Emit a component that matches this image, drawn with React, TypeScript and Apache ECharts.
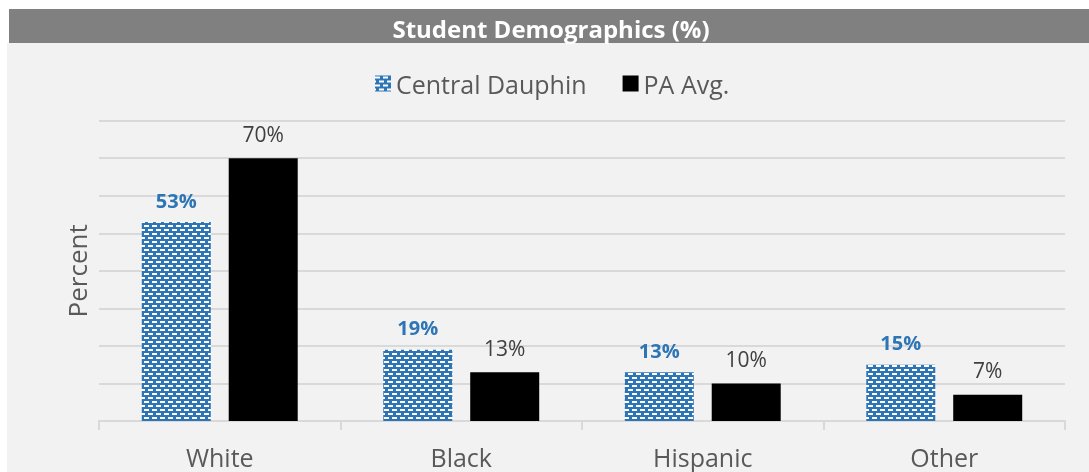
import React, { useEffect, useRef } from "react";
import * as echarts from "echarts";

const categories = ["White", "Black", "Hispanic", "Other"];
const centralDauphin = [53, 19, 13, 15];
const paAvg = [70, 13, 10, 7];
const seriesNames = ["Central Dauphin", "PA Avg."];
const titleText = "Student Demographics (%)";
const yAxisName = "Percent";

function makePattern(): HTMLCanvasElement {
  const c = document.createElement("canvas");
  c.width = 8;
  c.height = 8;
  const ctx = c.getContext("2d")!;
  ctx.fillStyle = "#2e75b6";
  ctx.fillRect(0, 0, 8, 8);
  ctx.fillStyle = "#ffffff";
  ctx.fillRect(0, 1, 5, 2);
  ctx.fillRect(4, 5, 4, 2);
  ctx.fillRect(0, 5, 1, 2);
  return c;
}

export default function App() {
  const ref = useRef<HTMLDivElement>(null);
  useEffect(() => {
    if (!ref.current) return;
    const chart = echarts.init(ref.current, undefined, { renderer: "svg" });
    const pat = makePattern();
    const font = "'Open Sans', 'Noto Sans', sans-serif";
    chart.setOption({
      animation: false,
      textStyle: { fontFamily: font },
      graphic: [
        {
          type: "rect",
          z: -10,
          silent: true,
          shape: { x: 7, y: 43, width: 1082, height: 429 },
          style: { fill: "#f2f2f2" },
        },
        {
          type: "rect",
          z: -10,
          silent: true,
          shape: { x: 9, y: 9, width: 1080, height: 34 },
          style: { fill: "#808080" },
        },
        {
          type: "text",
          z: 10,
          silent: true,
          x: 551,
          y: 28,
          style: {
            text: titleText,
            fill: "#ffffff",
            font: `bold 24px ${font}`,
            align: "center",
            verticalAlign: "middle",
          },
        },
      ],
      legend: {
        left: 370,
        top: 66,
        itemWidth: 16,
        itemHeight: 16,
        itemGap: 36,
        icon: "rect",
        textStyle: { fontSize: 25, color: "#595959", fontFamily: font },
        data: seriesNames,
      },
      grid: { left: 99, right: 24, top: 120.7, bottom: 51 },
      xAxis: {
        type: "category",
        data: categories,
        axisLine: { lineStyle: { color: "#d9d9d9", width: 2 } },
        axisTick: { show: true, length: 9, lineStyle: { color: "#d9d9d9", width: 2 } },
        axisLabel: {
          fontSize: 25,
          lineHeight: 25,
          color: "#595959",
          margin: 23,
          fontFamily: font,
        },
        splitLine: { show: false },
      },
      yAxis: {
        type: "value",
        min: 0,
        max: 80,
        interval: 10,
        name: yAxisName,
        nameLocation: "middle",
        nameGap: 9,
        nameTextStyle: { fontSize: 26, color: "#595959", fontFamily: font },
        axisLabel: { show: false },
        axisLine: { show: false },
        axisTick: { show: false },
        splitLine: { lineStyle: { color: "#d9d9d9", width: 2 } },
      },
      series: [
        {
          name: seriesNames[0],
          type: "bar",
          data: centralDauphin,
          barWidth: 69,
          barGap: "26%",
          itemStyle: {
            color: { image: pat, repeat: "repeat", imageWidth: 8, imageHeight: 8 },
          },
          label: {
            show: true,
            position: "top",
            distance: 12,
            formatter: "{c}%",
            fontSize: 20,
            fontWeight: "bold",
            color: "#2e75b6",
            fontFamily: font,
          },
        },
        {
          name: seriesNames[1],
          type: "bar",
          data: paAvg,
          barWidth: 69,
          itemStyle: { color: "#000000" },
          label: {
            show: true,
            position: "top",
            distance: 14,
            formatter: "{c}%",
            fontSize: 21,
            color: "#404040",
            fontFamily: font,
          },
        },
      ],
    });
    return () => chart.dispose();
  }, []);
  return (
    <div
      ref={ref}
      style={{ position: "fixed", left: 0, top: 0, width: 1089, height: 472 }}
    />
  );
}
